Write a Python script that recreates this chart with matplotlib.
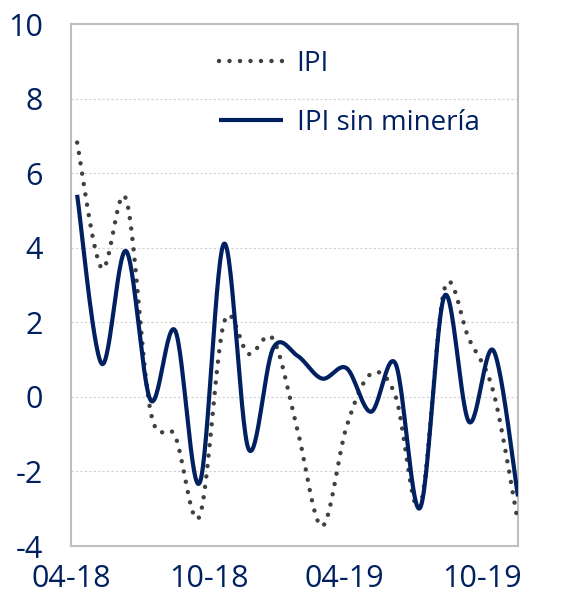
import numpy as np
import matplotlib
matplotlib.use("Agg")
import matplotlib.pyplot as plt

months = ["04-18", "05-18", "06-18", "07-18", "08-18", "09-18", "10-18",
          "11-18", "12-18", "01-19", "02-19", "03-19", "04-19", "05-19",
          "06-19", "07-19", "08-19", "09-19", "10-19"]
ipi = [6.82, 3.45, 5.3, -0.4, -1.05, -3.2, 2.0, 1.15, 1.55, -0.9,
       -3.47, -0.8, 0.62, 0.02, -2.93, 2.9, 1.55, 0.12, -3.38]
ipi_sin_mineria = [5.42, 0.89, 3.91, -0.09, 1.78, -2.31, 4.11, -1.4, 1.3, 1.1,
                   0.49, 0.77, -0.4, 0.89, -2.98, 2.71, -0.67, 1.24, -2.67]
tick_labels = ["04-18", "10-18", "04-19", "10-19"]
y_ticks = [-4, -2, 0, 2, 4, 6, 8, 10]

NAVY = "#002060"
GREY = "#404040"


def smooth(y, n=30):
    # excel-like smoothed line (catmull-rom bezier between points)
    y = np.asarray(y, dtype=float)
    x = np.arange(len(y), dtype=float)
    pts = np.column_stack([x, y])
    ext = np.vstack([pts[0], pts, pts[-1]])
    out = []
    t = np.linspace(0, 1, n, endpoint=False)[:, None]
    for i in range(len(pts) - 1):
        p0, p1, p2, p3 = ext[i], ext[i + 1], ext[i + 2], ext[i + 3]
        c1 = p1 + (p2 - p0) / 6
        c2 = p2 - (p3 - p1) / 6
        seg = ((1 - t) ** 3) * p1 + 3 * ((1 - t) ** 2) * t * c1 \
            + 3 * (1 - t) * t ** 2 * c2 + t ** 3 * p2
        out.append(seg)
    out.append(pts[-1][None, :])
    out = np.vstack(out)
    return out[:, 0], out[:, 1]


plt.rcParams['font.family'] = ['Open Sans', 'DejaVu Sans']

fig = plt.figure(figsize=(5.63, 5.99), dpi=100)
ax = fig.add_axes([71 / 563, 1 - 546 / 599, 447 / 563, 522 / 599])

xs, ys = smooth(ipi)
ax.plot(xs, ys, color=GREY, lw=3.2, linestyle=(0, (0.01, 2.35)),
        dash_capstyle='round', label="IPI", zorder=3)
xs, ys = smooth(ipi_sin_mineria)
ax.plot(xs, ys, color=NAVY, lw=3.0, label="IPI sin minería", zorder=4,
        solid_capstyle='butt')

ax.set_xlim(0, len(months) - 1)
ax.set_ylim(-4, 10)
ax.set_yticks(y_ticks)
ax.set_yticklabels([str(v) for v in y_ticks])
ax.set_xticks([-0.25, 5.4, 10.9, 16.55])
ax.set_xticklabels(tick_labels)
ax.tick_params(axis='both', length=0, labelsize=22, colors=NAVY)
ax.tick_params(axis='y', pad=20)
ax.tick_params(axis='x', pad=13)

ax.grid(axis='y', color="#D0D0D0", lw=0.8, linestyle=(0, (2, 2)))
ax.set_axisbelow(True)
for s in ax.spines.values():
    s.set_color("#BFBFBF")
    s.set_linewidth(1.5)

leg = ax.legend(loc='upper left', bbox_to_anchor=(0.331, 0.95), frameon=False,
                fontsize=20, handlelength=2.3, handletextpad=0.5,
                labelspacing=1.1, borderpad=0, borderaxespad=0)
for t in leg.get_texts():
    t.set_color(NAVY)

fig.savefig("out.png", dpi=100)
